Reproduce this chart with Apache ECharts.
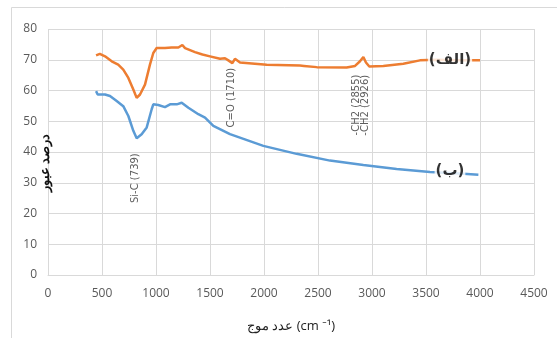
<!DOCTYPE html>
<html>
<head>
<meta charset="utf-8">
<script src="https://cdn.jsdelivr.net/npm/echarts@6/dist/echarts.min.js"></script>
<style>
  html, body { margin: 0; padding: 0; background: #fff; }
  #chart { width: 557px; height: 338px; }
</style>
</head>
<body>
<div id="chart"></div>
<script>
// Sample (الف) - orange trace, [wavenumber, transmittance %]
const alefData = [
  [445, 71.4], [480, 71.9], [528, 71.1], [590, 69.5], [650, 68.4], [697, 66.8],
  [744, 64.1], [790, 60.3], [821, 57.6], [852, 58.7], [898, 61.9], [944, 68.4],
  [975, 72.2], [1006, 73.8], [1083, 73.8], [1145, 74.0], [1207, 74.0], [1244, 74.8],
  [1269, 73.8], [1361, 72.5], [1430, 71.7], [1500, 71.1], [1593, 70.3], [1639, 70.5],
  [1670, 69.8], [1707, 68.9], [1731, 70.3], [1778, 69.1], [2025, 68.4], [2333, 68.1],
  [2350, 68.4], [2370, 68.0], [2488, 67.6], [2765, 67.5], [2843, 68.0], [2889, 69.5],
  [2920, 70.9], [2944, 69.1], [2975, 67.8], [3105, 68.0], [3290, 68.7], [3444, 69.8],
  [3600, 70.0], [3800, 69.8], [4000, 69.8]
];

// Sample (ب) - blue trace
const beData = [
  [445, 59.8], [460, 58.7], [528, 58.7], [574, 58.2], [636, 56.6], [697, 54.9],
  [744, 51.7], [790, 46.9], [821, 44.5], [867, 45.8], [914, 48.0], [960, 53.9],
  [975, 55.5], [1021, 55.3], [1083, 54.6], [1130, 55.5], [1192, 55.5], [1238, 56.0],
  [1300, 54.4], [1392, 52.3], [1454, 51.2], [1531, 48.5], [1685, 45.8], [1994, 42.0],
  [2302, 39.4], [2611, 37.2], [2920, 35.8], [3228, 34.5], [3537, 33.5], [3846, 32.9],
  [3985, 32.6]
];

// peak annotations: [x, y, text]
const peakLabels = [
  [805, 31.5, 'Si-C (739)'],
  [1699, 57.7, 'C=O (1710)'],
  [2856, 55.3, '-CH2 (2855)'],
  [2935, 55.2, '-CH2 (2926)']
];

// series name tags: [x, y, text]
const seriesTags = [
  [3722, 69.8, '(الف)'],
  [3722, 33.9, '(ب)']
];

const xTicks = { min: 0, max: 4500, interval: 500 };
const yTicks = { min: 0, max: 80, interval: 10 };

const ORANGE = '#ED7D31';
const BLUE = '#5B9BD5';
const GRID = '#D9D9D9';
const INK = '#595959';

const chart = echarts.init(document.getElementById('chart'), null, { renderer: 'canvas' });

chart.setOption({
  animation: false,
  backgroundColor: '#fff',
  textStyle: { fontFamily: 'Open Sans, Noto Sans, sans-serif' },
  grid: { left: 48, right: 23, top: 29, bottom: 61 },
  xAxis: {
    type: 'value',
    min: xTicks.min, max: xTicks.max, interval: xTicks.interval,
    name: 'عدد موج (cm ⁻¹)',
    nameLocation: 'middle',
    nameGap: 45,
    nameTextStyle: { color: '#222', fontSize: 13 },
    axisLine: { show: true, lineStyle: { color: GRID, width: 1 } },
    axisTick: { show: false },
    axisLabel: { color: INK, fontSize: 12, margin: 13, formatter: v => String(v) },
    splitLine: { show: true, lineStyle: { color: GRID, width: 1 } }
  },
  yAxis: {
    type: 'value',
    min: yTicks.min, max: yTicks.max, interval: yTicks.interval,
    axisLine: { show: false },
    axisTick: { show: false },
    axisLabel: { color: INK, fontSize: 12, margin: 11 },
    splitLine: { show: true, lineStyle: { color: GRID, width: 1 } }
  },
  graphic: [
    {
      type: 'rect',
      shape: { x: 11.5, y: 7.5, width: 600, height: 400 },
      style: { fill: 'none', stroke: GRID, lineWidth: 1 },
      silent: true
    },
    {
      type: 'text',
      x: 45, y: 163,
      rotation: Math.PI / 2,
      style: {
        text: 'درصد عبور',
        fill: '#111',
        font: 'bold 13px "Noto Sans", sans-serif',
        align: 'center',
        verticalAlign: 'middle'
      },
      z: 10
    }
  ],
  series: [
    {
      name: 'الف',
      type: 'line',
      data: alefData,
      showSymbol: false,
      lineStyle: { color: ORANGE, width: 2.5 },
      itemStyle: { color: ORANGE },
      z: 3
    },
    {
      name: 'ب',
      type: 'line',
      data: beData,
      showSymbol: false,
      lineStyle: { color: BLUE, width: 2.5 },
      itemStyle: { color: BLUE },
      z: 3
    },
    {
      type: 'scatter',
      data: peakLabels.map(p => ({ value: [p[0], p[1]], name: p[2] })),
      symbolSize: 0,
      silent: true,
      label: {
        show: true,
        position: 'inside',
        rotate: 90,
        formatter: p => p.name,
        color: '#333',
        fontSize: 10,
        fontFamily: 'DejaVu Sans, sans-serif'
      },
      z: 5
    },
    {
      type: 'scatter',
      data: seriesTags.map(p => ({ value: [p[0], p[1]], name: p[2] })),
      symbolSize: 0,
      silent: true,
      label: {
        show: true,
        position: 'inside',
        formatter: p => p.name,
        color: '#000',
        fontSize: 15,
        fontWeight: 'bold',
        fontFamily: 'DejaVu Sans, sans-serif',
        backgroundColor: '#fff',
        padding: [0, 1]
      },
      z: 6
    }
  ]
});
</script>
</body>
</html>
